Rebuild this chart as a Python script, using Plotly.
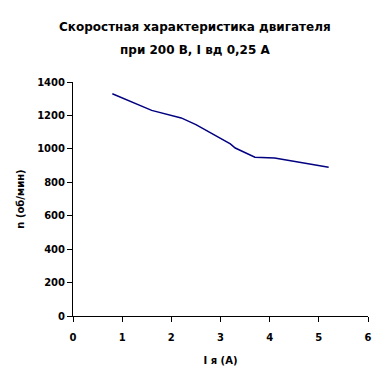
import plotly.graph_objects as go

current_a = [0.8, 1.6, 2.2, 2.5, 3.2, 3.3, 3.7, 4.1, 5.2]
speed_rpm = [1330, 1230, 1185, 1145, 1030, 1005, 950, 945, 890]
x_ticks = [0, 1, 2, 3, 4, 5, 6]
y_ticks = [0, 200, 400, 600, 800, 1000, 1200, 1400]
title_lines = ["Скоростная характеристика двигателя", "при 200 В, I вд 0,25 А"]

fig = go.Figure()
fig.add_trace(go.Scatter(x=current_a, y=speed_rpm, mode="lines",
                         line=dict(color="#000080", width=1.5), showlegend=False))

tick_font = dict(family="DejaVu Sans", size=10, color="black", weight="bold")
axis_common = dict(showline=True, linecolor="black", linewidth=1, ticks="outside",
                   ticklen=5, tickcolor="black", showgrid=False, zeroline=False,
                   automargin=False, tickfont=tick_font)

fig.update_layout(
    width=381, height=368,
    margin=dict(l=65, r=21, t=74, b=60),
    paper_bgcolor="white", plot_bgcolor="white",
    xaxis=dict(range=[0, 6], tickvals=x_ticks, ticklabelstandoff=7,
               title=dict(text="<b>I я (A)</b>", standoff=14,
                          font=dict(family="DejaVu Sans", size=10, color="black")),
               **axis_common),
    yaxis=dict(range=[0, 1400], tickvals=y_ticks,
               title=dict(text="<b>n (об/мин)</b>", standoff=10,
                          font=dict(family="DejaVu Sans", size=10, color="black")),
               **axis_common),
)
for line_text, ypos in zip(title_lines, [1.235, 1.137]):
    fig.add_annotation(text="<b>" + line_text + "</b>", xref="paper", yref="paper",
                       x=0.412, y=ypos, xanchor="center", yanchor="middle", showarrow=False,
                       font=dict(family="DejaVu Sans", size=12, color="black"))
fig.write_html("out.html")
